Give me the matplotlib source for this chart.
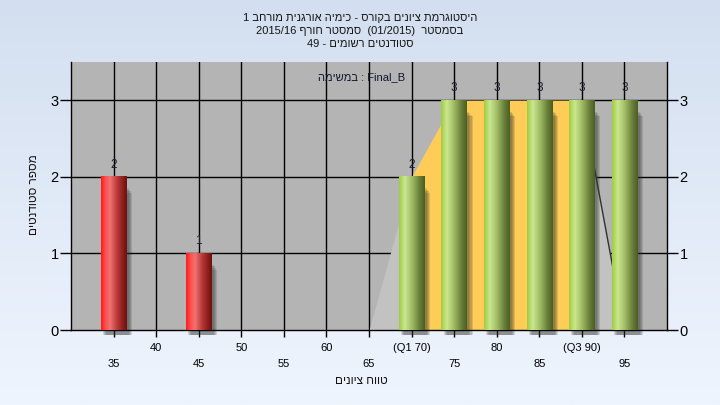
import re
import numpy as np
import matplotlib
matplotlib.use('Agg')
import matplotlib.pyplot as plt
from matplotlib.patches import Rectangle

plt.rcParams['font.family'] = ['Liberation Sans', 'DejaVu Sans']

# ---------------- data ----------------
title_lines = ["היסטוגרמת ציונים בקורס - כימיה אורגנית מורחב 1",
               "בסמסטר  (01/2015)  סמסטר חורף 2015/16",
               "סטודנטים רשומים - 49"]
task_prefix = "במשימה"
task_name = "Final_B"
x_label = "טווח ציונים"
y_label = "מספר סטודנטים"

fail_x = [35, 45]
fail_counts = [2, 1]
pass_x = [70, 75, 80, 85, 90, 95]
pass_counts = [2, 3, 3, 3, 3, 3]

curve_x = [65, 70, 75, 80, 85, 90, 95]
curve_y = [0, 2, 3, 3, 3, 3, 0]
q1, q3 = 70, 90

upper_ticks = [40, 50, 60, 70, 80, 90]
upper_labels = ['40', '50', '60', '(Q1 70)', '80', '(Q3 90)']
lower_ticks = [35, 45, 55, 65, 75, 85, 95]
lower_labels = ['35', '45', '55', '65', '75', '85', '95']
y_ticks = [0, 1, 2, 3]


def heb(s):
    """logical-order Hebrew -> visual order (LTR renderer)"""
    r = s[::-1]
    return re.sub(r'[0-9A-Za-z/._()]+', lambda m: m.group(0)[::-1], r)


def grad_img(stops, n=64):
    pos = np.array([p for p, _ in stops])
    cols = np.array([c for _, c in stops], dtype=float) / 255.0
    xs = np.linspace(0, 1, n)
    img = np.stack([np.interp(xs, pos, cols[:, k]) for k in range(3)], axis=-1)
    return img[np.newaxis, :, :]


red_stops = [(0, (255, 25, 25)), (0.15, (255, 75, 75)), (0.35, (240, 115, 115)),
             (0.6, (190, 60, 60)), (0.85, (140, 30, 30)), (1, (112, 14, 14))]
green_stops = [(0, (160, 205, 65)), (0.22, (202, 230, 142)), (0.5, (160, 188, 100)),
               (0.8, (102, 126, 56)), (1, (74, 94, 34))]

# ---------------- figure ----------------
fig = plt.figure(figsize=(7.2, 4.05), dpi=100)

bg = fig.add_axes([0, 0, 1, 1], zorder=-5)
grad = np.linspace(0, 1, 256)[:, None]
top_c = np.array([211, 223, 240]) / 255.0
bot_c = np.array([239, 245, 254]) / 255.0
bg_img = top_c[None, None, :] * (1 - grad[:, :, None]) + bot_c[None, None, :] * grad[:, :, None]
bg.imshow(bg_img, aspect='auto', extent=[0, 1, 0, 1])
bg.set_axis_off()

L, R, B, T = 71 / 720, 667 / 720, 1 - 330 / 405, 1 - 62 / 405
ax = fig.add_axes([L, B, R - L, T - B])
ax.set_facecolor('#b4b4b4')

bar_w = 3.0

# grid
for gx in lower_ticks + upper_ticks:
    ax.axvline(gx, color='black', lw=1, zorder=0.5)
for gy in y_ticks[1:]:
    ax.axhline(gy, color='black', lw=1, zorder=0.5)

# distribution polygon
cx = np.array(curve_x, dtype=float)
cy = np.array(curve_y, dtype=float)
ax.fill_between(cx, 0, cy, color='#c2c2c2', lw=0, zorder=1)
ax.fill_between(cx, 0, cy, where=(cx >= q1) & (cx <= q3), color='#ffcd57', lw=0, zorder=1.1)
i3 = curve_x.index(q3)
ax.plot(cx[i3:], cy[i3:], color='#303030', lw=1, zorder=1.2)


def draw_bars(xs, hs, stops):
    img = grad_img(stops)
    for x, h in zip(xs, hs):
        # shadow
        for k in range(4):
            ax.add_patch(Rectangle((x - bar_w / 2 + 0.25 + 0.12 * k, -0.07),
                                   bar_w + 0.05, h - 0.08 - 0.02 * k,
                                   facecolor='#303030', alpha=0.16, lw=0,
                                   zorder=2, clip_on=False))
        ax.imshow(img, extent=[x - bar_w / 2, x + bar_w / 2, 0, h],
                  aspect='auto', zorder=3, interpolation='bilinear')
        ax.text(x, h + 0.08, str(h), ha='center', va='bottom', fontsize=8.5,
                color='#1e1e2e', zorder=4)


draw_bars(fail_x, fail_counts, red_stops)
draw_bars(pass_x, pass_counts, green_stops)

ax.set_xlim(30, 100)
ax.set_ylim(0, 3.5)

# axes styling
for s in ['left', 'bottom', 'right']:
    ax.spines[s].set_color('black')
    ax.spines[s].set_linewidth(1)
ax.spines['top'].set_visible(False)

ax.set_yticks(y_ticks)
ax.set_yticklabels([str(v) for v in y_ticks])
ax.tick_params(axis='y', which='both', left=True, right=True, labelleft=True,
               labelright=True, length=8, width=1, pad=1, labelsize=10.5,
               colors='black')

ax.set_xticks(upper_ticks)
ax.set_xticklabels(upper_labels)
ax.set_xticks(lower_ticks, minor=True)
ax.set_xticklabels(lower_labels, minor=True)
ax.tick_params(axis='x', which='major', length=5, width=1, pad=4.5, labelsize=8)
ax.tick_params(axis='x', which='minor', length=5, width=1, pad=16, labelsize=8)

# texts
fig.text(34 / 720, 1 - 195 / 405, heb(y_label), rotation=90, ha='center',
         va='center', fontsize=8.5, color='#141414')
fig.text(361 / 720, 1 - 381 / 405, heb(x_label), ha='center', va='center',
         fontsize=8.5, color='#141414')
for i, line in enumerate(title_lines):
    fig.text(0.5, 1 - (18 + 13 * i) / 405, heb(line), ha='center', va='center',
             fontsize=8, color='#141414')
fig.text(362 / 720, 1 - 77 / 405, heb(task_prefix) + " : " + task_name,
         ha='center', va='center', fontsize=8, color='#141430')

fig.savefig('out.png', dpi=100)
